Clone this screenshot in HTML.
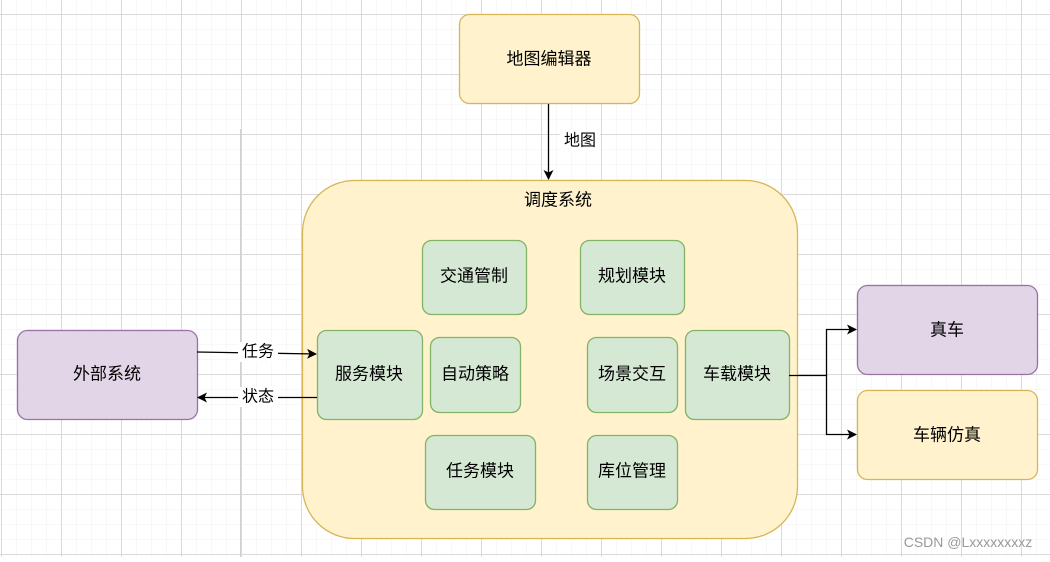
<!DOCTYPE html>
<html><head><meta charset="utf-8"><style>
html,body{margin:0;padding:0;background:#fff;}
svg text{font-family:"Liberation Sans","Noto Sans CJK SC",sans-serif;}
</style></head><body>
<svg width="1050" height="557" xmlns="http://www.w3.org/2000/svg">
<defs>
<pattern id="minor" x="1" y="14" width="15" height="15" patternUnits="userSpaceOnUse">
<path d="M0 0H15M0 0V15" stroke="#f0f0f0" stroke-width="1" fill="none"/>
</pattern>
<pattern id="major" x="1" y="14" width="60" height="60" patternUnits="userSpaceOnUse">
<path d="M0 0.5H60M0.5 0V60" stroke="#dadada" stroke-width="1" fill="none"/>
</pattern>
<marker id="ar" markerWidth="10" markerHeight="10" refX="9" refY="5" orient="auto" markerUnits="userSpaceOnUse">
<path d="M0 0L10 5L0 10L2.5 5Z" fill="#000"/>
</marker>
</defs>
<rect width="1050" height="557" fill="#fff"/>
<rect width="1050" height="557" fill="url(#minor)"/>
<rect width="1050" height="557" fill="url(#major)"/>
<line x1="240.5" y1="129" x2="240.5" y2="557" stroke="#d0d0d0"/>

<g stroke-width="1.3">
<rect x="459.5" y="14.5" width="180" height="89" rx="10" fill="#fff2cc" stroke="#d6b656"/>
<rect x="302.5" y="180.5" width="495" height="358" rx="52" fill="#fff2cc" stroke="#d6b656"/>
<rect x="17.5" y="330.5" width="180" height="89" rx="10" fill="#e1d5e7" stroke="#9673a6"/>
<rect x="857.5" y="285.5" width="180" height="89" rx="10" fill="#e1d5e7" stroke="#9673a6"/>
<rect x="857.5" y="390.5" width="180" height="89" rx="10" fill="#fff2cc" stroke="#d6b656"/>
<g fill="#d5e8d4" stroke="#82b366">
<rect x="422.5" y="240.5" width="104" height="74" rx="9"/>
<rect x="580.5" y="240.5" width="104" height="74" rx="9"/>
<rect x="317.5" y="330.5" width="105" height="89" rx="9"/>
<rect x="430.5" y="337.5" width="90" height="75" rx="9"/>
<rect x="587.5" y="337.5" width="90" height="75" rx="9"/>
<rect x="685.5" y="330.5" width="104" height="89" rx="9"/>
<rect x="425.5" y="435.5" width="110" height="74" rx="9"/>
<rect x="587.5" y="435.5" width="90" height="74" rx="9"/>
</g>
</g>

<g stroke="#000" stroke-width="1.3" fill="none">
<line x1="548.5" y1="104" x2="548.5" y2="179" marker-end="url(#ar)"/>
<line x1="197" y1="352" x2="316" y2="354" marker-end="url(#ar)"/>
<line x1="317" y1="397.5" x2="198" y2="397.5" marker-end="url(#ar)"/>
<polyline points="789,375.5 826.5,375.5 826.5,329.5 856,329.5" marker-end="url(#ar)"/>
<polyline points="826.5,375.5 826.5,434.5 856,434.5" marker-end="url(#ar)"/>
</g>

<g font-size="17" fill="#000" text-anchor="middle" dominant-baseline="central">
<text x="549" y="59">地图编辑器</text>
<text x="558" y="200">调度系统</text>
<text x="474" y="276">交通管制</text>
<text x="632" y="276">规划模块</text>
<text x="369" y="374">服务模块</text>
<text x="475" y="374">自动策略</text>
<text x="632" y="374">场景交互</text>
<text x="737" y="374">车载模块</text>
<text x="480" y="471">任务模块</text>
<text x="632" y="471">库位管理</text>
<text x="107" y="374">外部系统</text>
<text x="947" y="330">真车</text>
<text x="947" y="435">车辆仿真</text>
</g>
<g font-size="16" text-anchor="middle" dominant-baseline="central">
<rect x="560" y="130" width="40" height="22" fill="#fff"/>
<text x="580" y="141">地图</text>
<rect x="238" y="342" width="40" height="20" fill="#fff"/>
<text x="258" y="352">任务</text>
<rect x="238" y="387" width="40" height="20" fill="#fff"/>
<text x="258" y="397">状态</text>
</g>
<text x="968" y="542" font-size="14" fill="#999" text-anchor="middle" dominant-baseline="central">CSDN @Lxxxxxxxxz</text>
</svg>
</body></html>
